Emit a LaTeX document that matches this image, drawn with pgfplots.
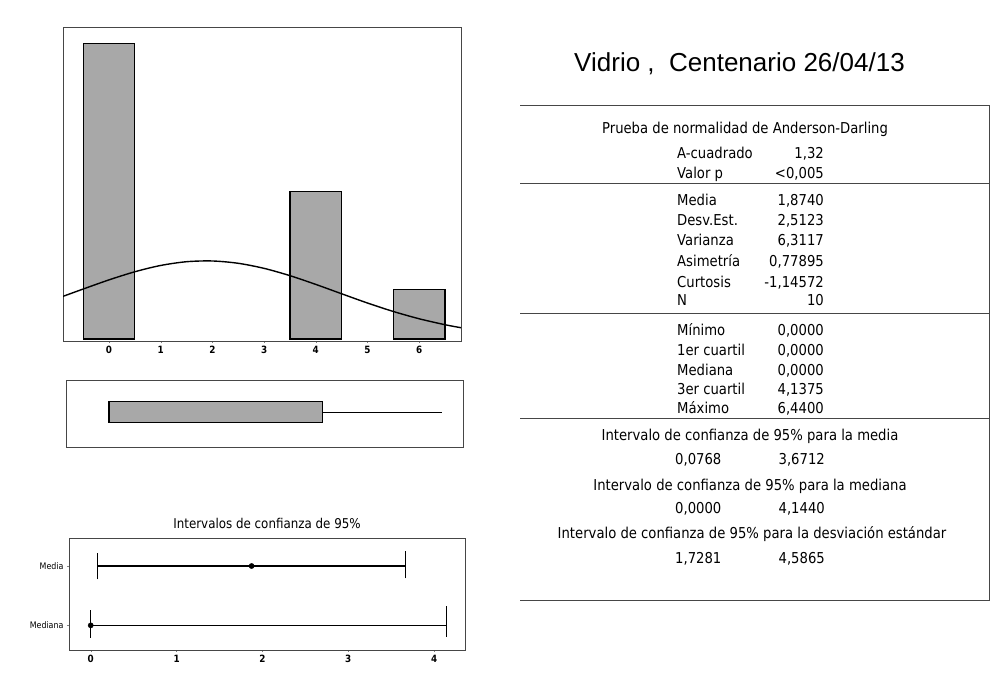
\documentclass[border=0pt]{standalone}
\usepackage{fontspec}
\setmainfont{Liberation Sans}
\newfontfamily\tahoma[FakeStretch=0.88]{DejaVu Sans}
\usepackage{pgfplots}
\pgfplotsset{compat=1.18}
\usepgfplotslibrary{statistics}
\definecolor{barfill}{RGB}{168,168,168}
\definecolor{frame}{RGB}{70,70,70}

\begin{document}
\begin{tikzpicture}
\path[use as bounding box, fill=white] (0pt,0pt) rectangle (1001pt,-686pt);

% histogram with fitted normal curve
\begin{axis}[
    at={(63pt,-27pt)}, anchor=north west,
    scale only axis, width=398pt, height=314pt,
    xmin=-0.89, xmax=6.81, ymin=-0.04, ymax=6.34,
    xtick={0,...,6}, ytick=\empty,
    xtick pos=bottom, tick align=outside, major tick length=2pt,
    axis line style={line width=0.8pt, frame},
    tick label style={font=\tahoma\fontsize{10}{10}\selectfont\bfseries},
    /pgf/number format/assume math mode=true,
]
\addplot[ybar, bar width=1, fill=barfill, draw=black, line width=1.3pt]
    coordinates {(0,6) (4,3) (6,1)};
\addplot[smooth, black, line width=1.4pt] coordinates {
    (-0.89,0.867) (-0.5,1.016) (0,1.202) (0.5,1.367) (1,1.495) (1.5,1.571)
    (2,1.586) (2.5,1.539) (3,1.436) (3.5,1.288) (4,1.110) (4.5,0.920)
    (5,0.732) (5.5,0.560) (6,0.412) (6.5,0.291) (6.81,0.230)
};
\end{axis}

% box plot
\begin{axis}[
    at={(66pt,-380pt)}, anchor=north west,
    scale only axis, width=397pt, height=67pt,
    xmin=-0.83, xmax=6.85, ymin=0, ymax=1,
    xtick=\empty, ytick=\empty,
    axis line style={line width=0.8pt, frame},
]
\addplot[boxplot prepared={lower whisker=0, lower quartile=0, median=0,
        upper quartile=4.1375, upper whisker=6.44,
        draw position=0.52, box extend=0.31, whisker extend=0,
        every whisker/.style={line width=0.9pt}},
    fill=barfill, draw=black, line width=1.3pt] coordinates {};
\end{axis}

% confidence intervals
\begin{axis}[
    at={(69pt,-538pt)}, anchor=north west,
    scale only axis, width=396pt, height=112pt,
    xmin=-0.253, xmax=4.36, ymin=0, ymax=1,
    xtick={0,...,4}, ytick={0.22,0.75}, yticklabels={Mediana,Media},
    xtick pos=bottom, ytick pos=left, tick align=outside, major tick length=2pt,
    axis line style={line width=0.8pt, frame},
    xticklabel style={font=\tahoma\fontsize{10}{10}\selectfont\bfseries},
    yticklabel style={font=\tahoma\fontsize{9}{9}\selectfont},
    /pgf/number format/assume math mode=true,
    title={Intervalos de confianza de 95\%},
    title style={font=\tahoma\fontsize{13.5}{13.5}\selectfont},
]
\addplot[black, line width=1.1pt] coordinates {(0.0768,0.75) (3.6712,0.75)};
\addplot[black, line width=1.1pt] coordinates {(0.0768,0.63) (0.0768,0.87)};
\addplot[black, line width=1.1pt] coordinates {(3.6712,0.64) (3.6712,0.88)};
\addplot[black, line width=1.6pt] coordinates {(0,0.22) (4.144,0.22)};
\addplot[black, line width=1.3pt] coordinates {(0,0.11) (0,0.36)};
\addplot[black, line width=1.3pt] coordinates {(4.144,0.12) (4.144,0.39)};
\addplot[only marks, mark=*, mark size=2.6pt, black] coordinates {(1.874,0.75) (0,0.22)};
\end{axis}

% summary table
\node[anchor=base, font=\fontsize{26}{26}\selectfont] at (739.5pt,-71pt) {Vidrio ,\ \ Centenario 26/04/13};
\draw[line width=0.8pt, frame] (520pt,-105pt) -- (989pt,-105pt) -- (989pt,-600pt) -- (520pt,-600pt);
\draw[line width=0.8pt, frame] (520pt,-183pt) -- (989pt,-183pt);
\draw[line width=0.8pt, frame] (520pt,-313pt) -- (989pt,-313pt);
\draw[line width=0.8pt, frame] (520pt,-418pt) -- (989pt,-418pt);

\begin{scope}[every node/.style={inner sep=0pt, font=\tahoma\fontsize{15}{15}\selectfont}]
\node[anchor=base] at (745pt,-133pt) {Prueba de normalidad de Anderson-Darling};
\node[anchor=base west] at (677pt,-158pt) {A-cuadrado};
\node[anchor=base east] at (824pt,-158pt) {1,32};
\node[anchor=base west] at (677pt,-178pt) {Valor p};
\node[anchor=base east] at (824pt,-178pt) {<0,005};

\node[anchor=base west] at (677pt,-205pt) {Media};
\node[anchor=base east] at (824pt,-205pt) {1,8740};
\node[anchor=base west] at (677pt,-225pt) {Desv.Est.};
\node[anchor=base east] at (824pt,-225pt) {2,5123};
\node[anchor=base west] at (677pt,-245pt) {Varianza};
\node[anchor=base east] at (824pt,-245pt) {6,3117};
\node[anchor=base west] at (677pt,-266pt) {Asimetría};
\node[anchor=base east] at (824pt,-266pt) {0,77895};
\node[anchor=base west] at (677pt,-287pt) {Curtosis};
\node[anchor=base east] at (824pt,-287pt) {-1,14572};
\node[anchor=base west] at (677pt,-305pt) {N};
\node[anchor=base east] at (824pt,-305pt) {10};

\node[anchor=base west] at (677pt,-335pt) {Mínimo};
\node[anchor=base east] at (824pt,-335pt) {0,0000};
\node[anchor=base west] at (677pt,-355pt) {1er cuartil};
\node[anchor=base east] at (824pt,-355pt) {0,0000};
\node[anchor=base west] at (677pt,-375pt) {Mediana};
\node[anchor=base east] at (824pt,-375pt) {0,0000};
\node[anchor=base west] at (677pt,-394pt) {3er cuartil};
\node[anchor=base east] at (824pt,-394pt) {4,1375};
\node[anchor=base west] at (677pt,-413pt) {Máximo};
\node[anchor=base east] at (824pt,-413pt) {6,4400};

\node[anchor=base] at (750pt,-440pt) {Intervalo de confianza de 95\% para la media};
\node[anchor=base west] at (675pt,-464pt) {0,0768};
\node[anchor=base east] at (825pt,-464pt) {3,6712};
\node[anchor=base] at (750pt,-490pt) {Intervalo de confianza de 95\% para la mediana};
\node[anchor=base west] at (675pt,-513pt) {0,0000};
\node[anchor=base east] at (825pt,-513pt) {4,1440};
\node[anchor=base] at (752pt,-538pt) {Intervalo de confianza de 95\% para la desviación estándar};
\node[anchor=base west] at (675pt,-563pt) {1,7281};
\node[anchor=base east] at (825pt,-563pt) {4,5865};
\end{scope}
\end{tikzpicture}
\end{document}
